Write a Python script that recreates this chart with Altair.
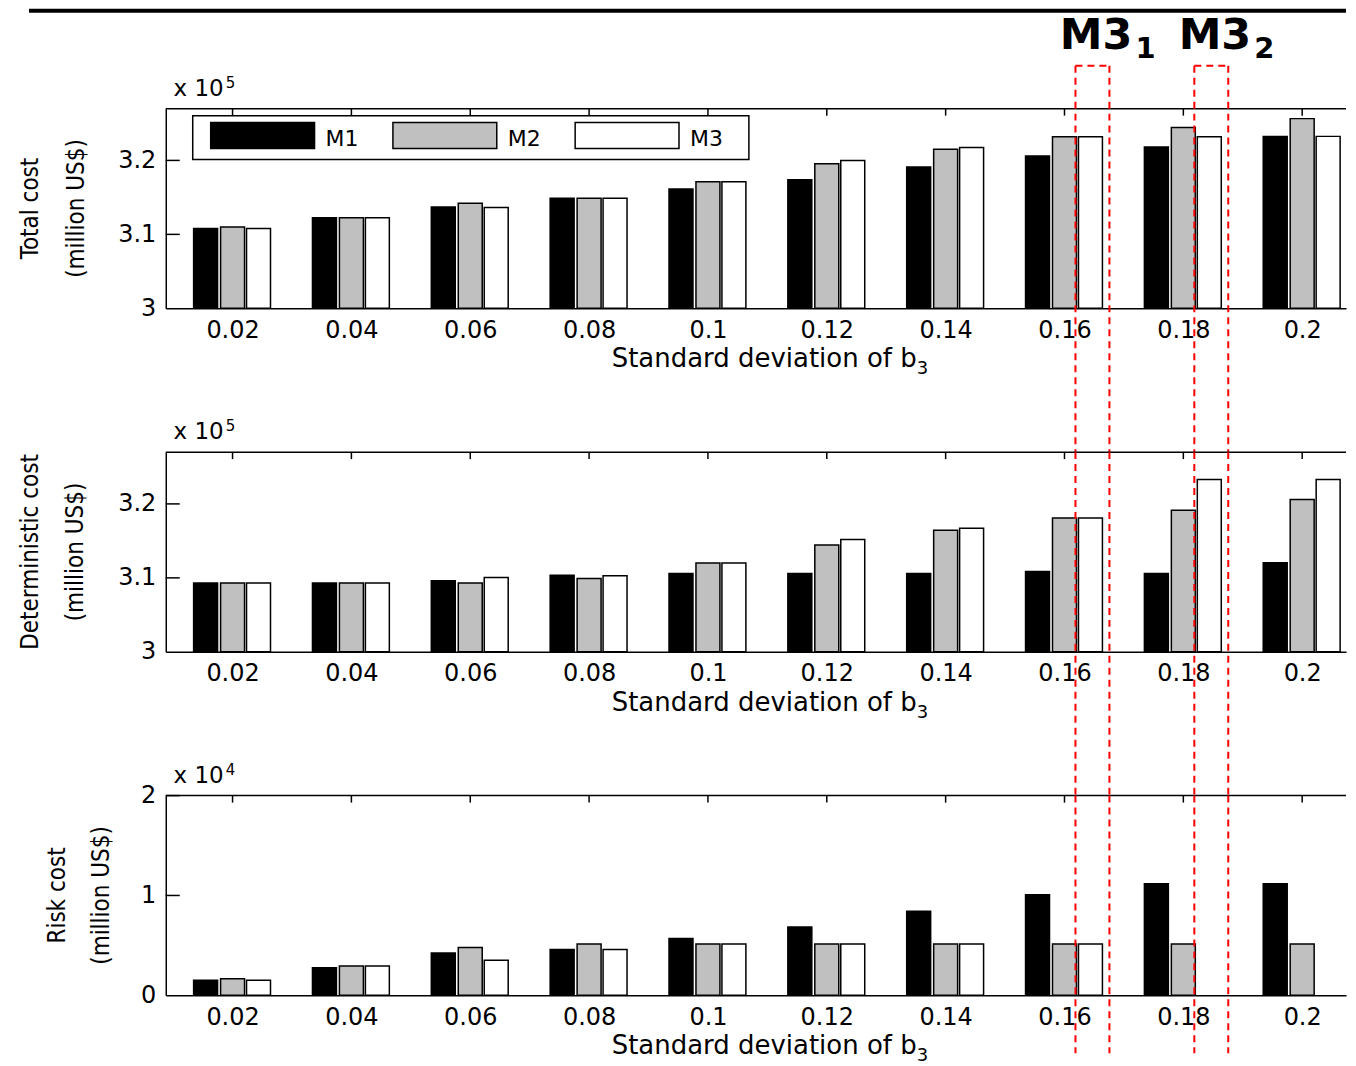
import altair as alt
import pandas as pd

# ---------------- data ----------------
sd_values = [0.02, 0.04, 0.06, 0.08, 0.1, 0.12, 0.14, 0.16, 0.18, 0.2]
methods = ["M1", "M2", "M3"]
method_colors = ["#000000", "#c0c0c0", "#ffffff"]

# Total cost (x 10^5 million US$)
total_m1 = [3.108, 3.1225, 3.137, 3.149, 3.1615, 3.174, 3.191, 3.206, 3.218, 3.2325]
total_m2 = [3.110, 3.1225, 3.142, 3.149, 3.171, 3.1955, 3.215, 3.232, 3.2445, 3.2565]
total_m3 = [3.108, 3.1225, 3.1365, 3.149, 3.171, 3.200, 3.2175, 3.232, 3.232, 3.2325]

# Deterministic cost (x 10^5 million US$)
det_m1 = [3.093, 3.093, 3.096, 3.1035, 3.106, 3.106, 3.106, 3.1085, 3.106, 3.1205]
det_m2 = [3.093, 3.093, 3.093, 3.099, 3.120, 3.1445, 3.1645, 3.181, 3.1915, 3.206]
det_m3 = [3.093, 3.093, 3.1005, 3.103, 3.120, 3.152, 3.167, 3.181, 3.233, 3.233]

# Risk cost (x 10^4 million US$)
risk_m1 = [0.15, 0.277, 0.423, 0.46, 0.57, 0.683, 0.843, 1.007, 1.117, 1.117]
risk_m2 = [0.167, 0.293, 0.48, 0.513, 0.513, 0.513, 0.513, 0.513, 0.513, 0.513]
risk_m3 = [0.15, 0.293, 0.35, 0.46, 0.513, 0.513, 0.513, 0.513, None, None]

cost_ticks = [3.0, 3.1, 3.2]
risk_ticks = [0.0, 1.0, 2.0]
cost_domain = [3.0, 3.27]
risk_domain = [0.0, 2.0]

highlight_sd = [0.16, 0.18]
highlight_sub = ["1", "2"]

# ---------------- layout / style constants ----------------
W = 1182
H = 200
PX_PER_UNIT = 6002.0
X_MIN = 0.0096
X_MAX = X_MIN + W / PX_PER_UNIT
BAR_OFFSETS = [-27, 0, 26]
BAR_WIDTH = 24

FONT = "DejaVu Sans"
YTITLE_FONT = "DejaVu Sans Condensed, Liberation Sans Narrow, Liberation Sans, sans-serif"
RED = "#ff0000"

one_row = pd.DataFrame({"k": [0]})


def make_panel(series, ydom, yticks, exponent, title_lines, title_x, red_top, red_bottom, top=False):
    rows = []
    for m, vals in zip(methods, series):
        for s, v in zip(sd_values, vals):
            rows.append({"sd": s, "method": m, "value": v})
    df = pd.DataFrame(rows)
    sd_df = pd.DataFrame({"sd": sd_values})
    ytick_df = pd.DataFrame({"t": yticks[1:]})
    hl_df = pd.DataFrame({"sd": highlight_sd, "sub": highlight_sub})

    xs = alt.Scale(domain=[X_MIN, X_MAX], nice=False, zero=False)
    ys = alt.Scale(domain=ydom, nice=False, zero=False)
    xaxis = alt.Axis(values=sd_values, labelExpr="format(datum.value, '~g')", ticks=False, tickSize=0,
                     grid=False, domain=True, domainColor="black", domainWidth=1.5,
                     labelFont=FONT, labelFontSize=24, labelColor="black", labelPadding=10,
                     labelFlush=False, labelOverlap=False, title=None)
    yaxis = alt.Axis(values=yticks, labelExpr="format(datum.value, '~g')", ticks=False, tickSize=0,
                     grid=False, domain=True, domainColor="black", domainWidth=1.5,
                     labelFont=FONT, labelFontSize=24, labelColor="black", labelPadding=10,
                     labelFlush=False, labelOverlap=False, title=None)
    X = alt.X("sd:Q", scale=xs, axis=xaxis)
    color_scale = alt.Scale(domain=methods, range=method_colors)

    layers = []
    # anchor for left edge of the page
    layers.append(alt.Chart(one_row).mark_rule(color="white", strokeWidth=1).encode(
        x=alt.value(-157), y=alt.value(0), y2=alt.value(5)))
    # inward bottom ticks (under the bars)
    layers.append(alt.Chart(sd_df).mark_rule(color="black", strokeWidth=1.5).encode(
        x=X, y=alt.value(H - 7), y2=alt.value(H)))
    # bars
    base = ydom[0]
    for m, off in zip(methods, BAR_OFFSETS):
        layers.append(
            alt.Chart(df).transform_filter(
                f"datum.method == '{m}' && isValid(datum.value)"
            ).mark_bar(size=BAR_WIDTH, xOffset=off, stroke="black", strokeWidth=1.5).encode(
                x=X,
                y=alt.Y("value:Q", scale=ys, axis=yaxis),
                y2=alt.datum(base),
                fill=alt.Fill("method:N", scale=color_scale, legend=None),
            )
        )
    # inward top ticks
    layers.append(alt.Chart(sd_df).mark_rule(color="black", strokeWidth=1.5).encode(
        x=X, y=alt.value(0), y2=alt.value(7)))
    # inward left ticks
    layers.append(alt.Chart(ytick_df).mark_rule(color="black", strokeWidth=1.5).encode(
        y=alt.Y("t:Q", scale=ys, axis=yaxis), x=alt.value(0), x2=alt.value(14)))
    # top frame
    layers.append(alt.Chart(one_row).mark_rule(color="black", strokeWidth=1.5).encode(
        x=alt.value(0), x2=alt.value(W), y=alt.value(0)))
    # exponent label "x 10^n"
    layers.append(alt.Chart(one_row).mark_text(text="x 10", font=FONT, fontSize=23, color="black",
                                               align="right", baseline="alphabetic").encode(
        x=alt.value(58), y=alt.value(-13)))
    layers.append(alt.Chart(one_row).mark_text(text=exponent, font=FONT, fontSize=15, color="black",
                                               align="left", baseline="alphabetic").encode(
        x=alt.value(60), y=alt.value(-21)))
    # y title (two rotated lines)
    for line, xpos in zip(title_lines, title_x):
        layers.append(alt.Chart(one_row).mark_text(text=line, font=YTITLE_FONT, fontSize=24, color="black",
                                                   angle=270, align="center", baseline="middle").encode(
            x=alt.value(xpos), y=alt.value(H / 2)))
    # x title with subscript
    layers.append(alt.Chart(one_row).mark_text(text="Standard deviation of b", font=FONT, fontSize=26,
                                               color="black", align="right", baseline="alphabetic").encode(
        x=alt.value(752), y=alt.value(259)))
    layers.append(alt.Chart(one_row).mark_text(text="3", font=FONT, fontSize=18, color="black",
                                               align="left", baseline="alphabetic").encode(
        x=alt.value(752), y=alt.value(266)))
    # red dashed highlight boxes (vertical sides)
    for off in (11, 45):
        layers.append(alt.Chart(hl_df).mark_rule(color=RED, strokeWidth=2, strokeDash=[7, 5], xOffset=off).encode(
            x=X, y=alt.value(red_top), y2=alt.value(red_bottom)))

    if top:
        # top edges of the highlight boxes
        layers.append(alt.Chart(hl_df).mark_rule(color=RED, strokeWidth=2, strokeDash=[7, 5],
                                                 xOffset=11, x2Offset=45).encode(
            x=X, x2=alt.X2("sd:Q"), y=alt.value(red_top)))
        # M3 labels
        layers.append(alt.Chart(hl_df).mark_text(text="M3", font=FONT, fontSize=43, fontWeight="bold",
                                                 color="black", align="right", baseline="alphabetic",
                                                 dx=68).encode(x=X, y=alt.value(-60)))
        layers.append(alt.Chart(hl_df).mark_text(font=FONT, fontSize=29, fontWeight="bold",
                                                 color="black", align="left", baseline="alphabetic",
                                                 dx=71).encode(x=X, y=alt.value(-51), text="sub:N"))
        # thick line at the very top
        layers.append(alt.Chart(one_row).mark_rule(color="black", strokeWidth=4).encode(
            x=alt.value(-137), x2=alt.value(W), y=alt.value(-98)))
        # legend
        layers.append(alt.Chart(one_row).mark_rect(fill="white", stroke="black", strokeWidth=1.5).encode(
            x=alt.value(27), x2=alt.value(584), y=alt.value(7), y2=alt.value(51)))
        for i, (m, c) in enumerate(zip(methods, method_colors)):
            lx = 45 + i * 182.5
            layers.append(alt.Chart(one_row).mark_rect(fill=c, stroke="black", strokeWidth=1.5).encode(
                x=alt.value(lx), x2=alt.value(lx + 104), y=alt.value(14), y2=alt.value(40)))
            layers.append(alt.Chart(one_row).mark_text(text=m, font=FONT, fontSize=22, color="black",
                                                       align="left", baseline="alphabetic").encode(
                x=alt.value(lx + 115), y=alt.value(37)))

    return alt.layer(*layers).properties(width=W, height=H)


top_panel = make_panel([total_m1, total_m2, total_m3], cost_domain, cost_ticks, "5",
                       ["Total cost", "(million US$)"], [-135, -89], -43, H + 144, top=True)
mid_panel = make_panel([det_m1, det_m2, det_m3], cost_domain, cost_ticks, "5",
                       ["Deterministic cost", "(million US$)"], [-135, -90], 0, H + 144)
bot_panel = make_panel([risk_m1, risk_m2, risk_m3], risk_domain, risk_ticks, "4",
                       ["Risk cost", "(million US$)"], [-108, -64], 0, 258)

chart = alt.vconcat(top_panel, mid_panel, bot_panel, spacing=144, bounds="flush").properties(
    padding=0, background="white"
).configure_view(stroke=None)

chart.save("out.html", embed_options={"renderer": "svg", "actions": False})
